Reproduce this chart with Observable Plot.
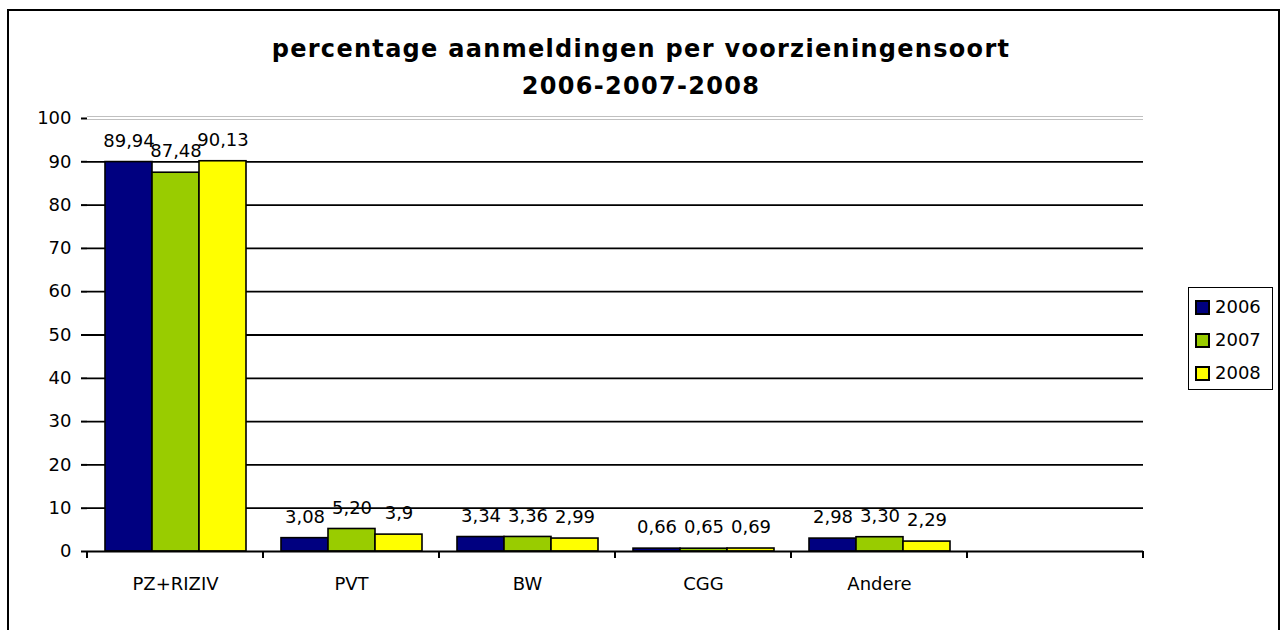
<!DOCTYPE html>
<html>
<head>
<meta charset="utf-8">
<script src="https://cdn.jsdelivr.net/npm/d3@7"></script>
<script src="https://cdn.jsdelivr.net/npm/@observablehq/plot@0.6"></script>
<style>
  html, body { margin: 0; padding: 0; background: #fff; }
  #wrap { position: relative; width: 1282px; height: 630px; overflow: hidden; font-family: Tahoma, "DejaVu Sans", sans-serif; color: #000; }
  #border { position: absolute; left: 7px; top: 9px; width: 1273px; height: 720px; border: 2px solid #000; box-sizing: border-box; }
  #title { position: absolute; left: 0; top: 31px; width: 1282px; text-align: center; font-weight: bold; font-size: 24px; line-height: 37px; letter-spacing: 1.3px; font-family: Tahoma, "DejaVu Sans", sans-serif; }
  #chart { position: absolute; left: 0; top: 0; }
  #legend { position: absolute; left: 1188px; top: 287px; width: 85px; height: 103px; border: 1.5px solid #000; box-sizing: border-box; padding-top: 2px; padding-left: 6px; background: #fff; }
  .row { height: 33px; line-height: 33px; font-size: 18px; white-space: nowrap; }
  .sw { display: inline-block; width: 11px; height: 11px; border: 2px solid #000; vertical-align: middle; margin-right: 5px; position: relative; top: -1px; }
</style>
</head>
<body>
<div id="wrap">
  <div id="border"></div>
  <div id="chart"></div>
  <div id="title">percentage aanmeldingen per voorzieningensoort<br>2006-2007-2008</div>
  <div id="legend"></div>
</div>
<script>
// ---- data ----
const categories = ["PZ+RIZIV", "PVT", "BW", "CGG", "Andere"];
const slots = [...categories, ""];          // the sixth slot of the axis is empty
const years = ["2006", "2007", "2008"];
const colors = ["#000080", "#99CC00", "#FFFF00"];
const values2006 = [89.94, 3.08, 3.34, 0.66, 2.98];
const values2007 = [87.48, 5.20, 3.36, 0.65, 3.30];
const values2008 = [90.13, 3.9, 2.99, 0.69, 2.29];
const labels2006 = ["89,94", "3,08", "3,34", "0,66", "2,98"];
const labels2007 = ["87,48", "5,20", "3,36", "0,65", "3,30"];
const labels2008 = ["90,13", "3,9", "2,99", "0,69", "2,29"];
const yTicks = [0, 10, 20, 30, 40, 50, 60, 70, 80, 90, 100];
const gridValues = [10, 20, 30, 40, 50, 60, 70, 80, 90];

const series = [values2006, values2007, values2008];
const seriesLabels = [labels2006, labels2007, labels2008];
const data = [];
categories.forEach((c, i) => years.forEach((y, j) => data.push({cat: c, year: y, value: series[j][i], label: seriesLabels[j][i]})));
const grid = slots.flatMap(c => gridValues.map(v => ({cat: c, v})));
const top100 = slots.map(c => ({cat: c, v: 100}));
const base = slots.map(c => ({cat: c, v: 0}));

const FONT = 'Tahoma, "DejaVu Sans", sans-serif';

// ticks at the category boundaries, under the x axis (drawn in each facet)
function boundaryTicks(index, scales, values, dims) {
  const y0 = scales.y(0);
  const g = d3.create("svg:g").attr("stroke", "#000").attr("stroke-width", 2);
  [dims.marginLeft, dims.width - dims.marginRight].forEach(x =>
    g.append("line").attr("x1", x).attr("x2", x).attr("y1", y0).attr("y2", y0 + 7));
  return g.node();
}

const chart = Plot.plot({
  width: 1282,
  height: 630,
  marginLeft: 87,
  marginRight: 139,
  marginTop: 118,
  marginBottom: 79,
  style: {fontFamily: FONT, fontSize: "18px", background: "transparent", color: "#000"},
  fx: {domain: slots, padding: 0, label: null},
  x: {domain: years, paddingInner: 0, paddingOuter: 0.35, axis: null},
  y: {domain: [0, 100], label: null},
  color: {domain: years, range: colors},
  marks: [
    Plot.ruleY(grid, {fx: "cat", y: "v", stroke: "#000", strokeWidth: 1.8}),
    Plot.ruleY(top100, {fx: "cat", y: "v", stroke: "#c0c0c0", strokeWidth: 1, dy: -2}),
    Plot.ruleY(top100, {fx: "cat", y: "v", stroke: "#c0c0c0", strokeWidth: 1, dy: 1}),
    Plot.barY(data, {fx: "cat", x: "year", y: "value", fill: "year", stroke: "#000", strokeWidth: 1.6}),
    Plot.ruleY(base, {fx: "cat", y: "v", stroke: "#000", strokeWidth: 2}),
    boundaryTicks,
    Plot.text(data, {fx: "cat", x: "year", y: "value", text: "label", dy: -21, fontSize: 18, fill: "#000"}),
    Plot.axisY({ticks: yTicks, tickSize: 6, tickPadding: 10, line: true, strokeWidth: 2, fontSize: 18, label: null, tickFormat: d => String(d)}),
    Plot.axisFx({anchor: "bottom", tickSize: 0, tickPadding: 26, fontSize: 18, label: null})
  ]
});
document.getElementById("chart").appendChild(chart);

// legend
const legend = d3.select("#legend");
years.forEach((y, j) => {
  const row = legend.append("div").attr("class", "row");
  row.append("span").attr("class", "sw").style("background", colors[j]);
  row.append("span").text(y);
});
</script>
</body>
</html>
